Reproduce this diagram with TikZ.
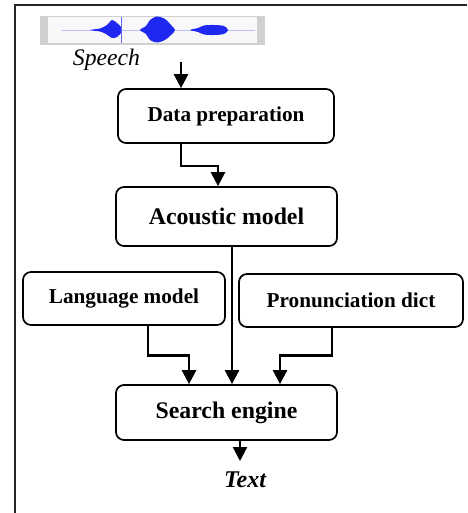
\documentclass[tikz,border=0pt]{standalone}
\usepackage{fontspec}
\setmainfont{Liberation Serif}
\usetikzlibrary{arrows.meta}
\definecolor{wave}{RGB}{30,40,240}
\definecolor{wavebg}{RGB}{208,208,208}
\definecolor{waveinner}{RGB}{248,248,250}
\begin{document}
\begin{tikzpicture}[x=1pt,y=-1pt,
  box/.style={draw,line width=1.7pt,rounded corners=8pt,inner sep=0pt,font=\bfseries\fontsize{21.2}{24}\selectfont},
  bigbox/.style={box,font=\bfseries\fontsize{23.8}{26}\selectfont},
  arr/.style={line width=2.4pt,-{Triangle[length=14pt,width=14pt]}}]
\useasboundingbox (0,0) rectangle (467,513);
% frame (top and left edges)
\draw[line width=1.5pt,black!85] (467,5) -- (15,5) -- (15,513);
% waveform image
\fill[wavebg] (40,16) rectangle (265,45);
\fill[waveinner] (48,17) rectangle (257,43);
\draw[wave!30,line width=0.6pt] (62,30) -- (255,30);
\fill[wave] plot[smooth cycle] coordinates {(90,30) (100,28.5) (107,25) (112,20) (117,23) (121,27) (122,30) (121,33) (117,37) (112,38) (106,34) (100,31.5)};
\draw[wave!70,line width=1pt] (121,17) -- (121,43);
\fill[wave] plot[smooth cycle] coordinates {(140,30) (146,26) (150,20) (157,16.5) (165,19) (171,25) (175,30) (171,35) (165,40) (157,42.5) (150,40) (146,34)};
\fill[wave] plot[smooth cycle] coordinates {(190,30) (198,28) (204,25.5) (214,25) (224,26) (228,30) (224,34) (214,35) (204,34.5) (198,32)};
% labels
\node[font=\itshape\fontsize{23.7}{26}\selectfont] (sp) at (106.5,60) {Speech};
\node[font=\bfseries\itshape\fontsize{24}{26}\selectfont] (tx) at (245,480) {Text};
% boxes
\node[box,minimum width=216pt,minimum height=54pt] (dp) at (226,116) {Data preparation};
\node[bigbox,minimum width=221pt,minimum height=59pt] (am) at (226.5,216.5) {Acoustic model};
\node[box,minimum width=202pt,minimum height=53pt] (lm) at (124,298.5) {Language model};
\node[box,minimum width=224pt,minimum height=53pt] (pd) at (351,300.5) {Pronunciation dict};
\node[bigbox,minimum width=221pt,minimum height=55pt] (se) at (226.5,412.5) {Search engine};
% helper coordinates
\coordinate (s0) at (181,62);
\coordinate (t0) at (240,461);
% connectors
\draw[arr] (s0) -- (s0 |- dp.north);
\draw[arr] ([xshift=-45pt]dp.south) -- ++(0,22) -| ([xshift=-8.5pt]am.north);
\draw[arr] ([xshift=5.5pt]am.south) -- ([xshift=5.5pt]se.north);
\draw[arr] ([xshift=24pt]lm.south) -- ++(0,29.5) -| ([xshift=-37.5pt]se.north);
\draw[arr] ([xshift=-19pt]pd.south) -- ++(0,27.5) -| ([xshift=53.5pt]se.north);
\draw[arr] (t0 |- se.south) -- (t0);
\end{tikzpicture}
\end{document}
